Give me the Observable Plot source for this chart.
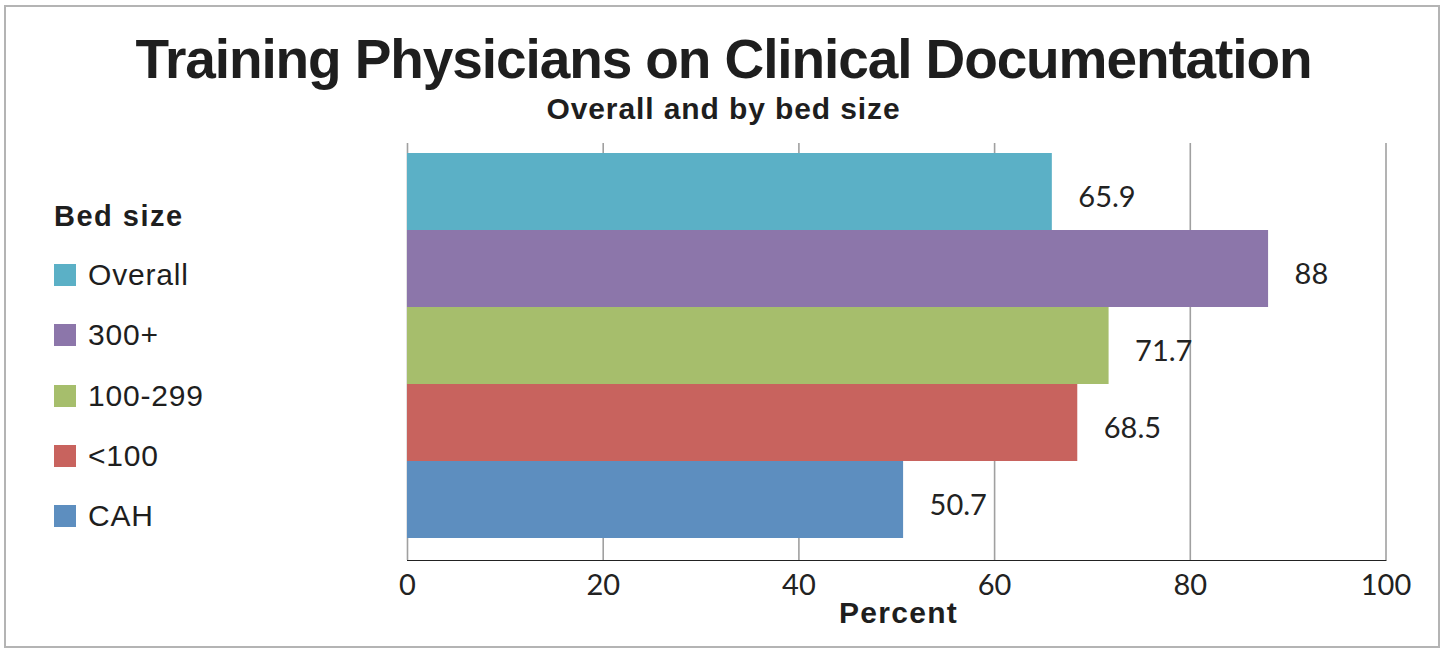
<!DOCTYPE html>
<html>
<head>
<meta charset="utf-8">
<script src="https://cdn.jsdelivr.net/npm/d3@7"></script>
<script src="https://cdn.jsdelivr.net/npm/@observablehq/plot@0.6"></script>
<style>
  html, body { margin: 0; padding: 0; background: #fff; }
  #wrap { position: relative; width: 1447px; height: 649px; overflow: hidden; font-family: "Liberation Sans", Arial, sans-serif; }
  #border { position: absolute; left: 4px; top: 5px; width: 1432px; height: 639px; border: 2px solid #b4b4b4; box-sizing: content-box; }
  #title { position: absolute; left: 0; width: 1447px; top: 31.5px; text-align: center; font-weight: bold; font-size: 55px; color: #1e1e1e; line-height: 1; letter-spacing: -1.1px; white-space: nowrap; }
  #subtitle { position: absolute; left: 0; width: 1447px; top: 93.5px; text-align: center; font-weight: bold; font-size: 30px; color: #1e1e1e; line-height: 1; letter-spacing: 0.9px; white-space: nowrap; }
  #legend { position: absolute; left: 54px; top: 201.5px; color: #1e1e1e; }
  #legend .hdr { font-weight: bold; font-size: 29px; line-height: 1; height: 43.5px; letter-spacing: 1.5px; }
  #legend .item { display: flex; align-items: center; height: 60.25px; font-size: 30px; line-height: 1; letter-spacing: 0.8px; }
  #legend .sw { width: 22px; height: 22px; margin-right: 12px; }
  #chart { position: absolute; left: 0; top: 0; }
  #xlabel { position: absolute; left: 0; width: 1797px; top: 597.5px; text-align: center; font-weight: bold; font-size: 30px; color: #1e1e1e; line-height: 1; letter-spacing: 1.3px; }
</style>
</head>
<body>
<div id="wrap">
  <div id="chart"></div>
  <div id="border"></div>
  <div id="title"></div>
  <div id="subtitle"></div>
  <div id="legend"></div>
  <div id="xlabel"></div>
</div>
<script>
const titleText = "Training Physicians on Clinical Documentation";
const subtitleText = "Overall and by bed size";
const legendTitle = "Bed size";
const axisLabel = "Percent";
const categories = ["Overall", "300+", "100-299", "<100", "CAH"];
const values = [65.9, 88, 71.7, 68.5, 50.7];
const colors = ["#5bb0c6", "#8c76aa", "#a6be6c", "#c8635e", "#5d8ebf"];
const xTicks = [0, 20, 40, 60, 80, 100];

const data = categories.map((c, i) => ({cat: c, value: values[i]}));

document.getElementById("title").textContent = titleText;
document.getElementById("subtitle").textContent = subtitleText;
document.getElementById("xlabel").textContent = axisLabel;

const leg = document.getElementById("legend");
const h = document.createElement("div"); h.className = "hdr"; h.textContent = legendTitle; leg.appendChild(h);
categories.forEach((c, i) => {
  const it = document.createElement("div"); it.className = "item";
  const sw = document.createElement("div"); sw.className = "sw"; sw.style.background = colors[i];
  const t = document.createElement("span"); t.textContent = c;
  it.appendChild(sw); it.appendChild(t); leg.appendChild(it);
});

const chart = Plot.plot({
  width: 1447,
  height: 649,
  marginLeft: 407,
  marginRight: 61.5,
  marginTop: 143,
  marginBottom: 89,
  style: {background: "transparent", fontFamily: "Lato, 'Open Sans', sans-serif", fontSize: "29px", color: "#222"},
  x: {domain: [0, 100], ticks: xTicks, tickSize: 0, tickPadding: 14, label: null, line: true},
  y: {domain: categories, range: [153, 538], padding: 0, axis: null},
  color: {domain: categories, range: colors},
  marks: [
    Plot.ruleX(xTicks, {stroke: "#a0a0a0", strokeWidth: 1.6}),
    Plot.barX(data, {x: "value", y: "cat", fill: "cat", inset: 0}),
    Plot.text(data, {x: "value", y: "cat", text: d => String(d.value), dx: 26, dy: 6, textAnchor: "start", fontSize: 29, fill: "#222"})
  ]
});
document.getElementById("chart").appendChild(chart);
</script>
</body>
</html>
